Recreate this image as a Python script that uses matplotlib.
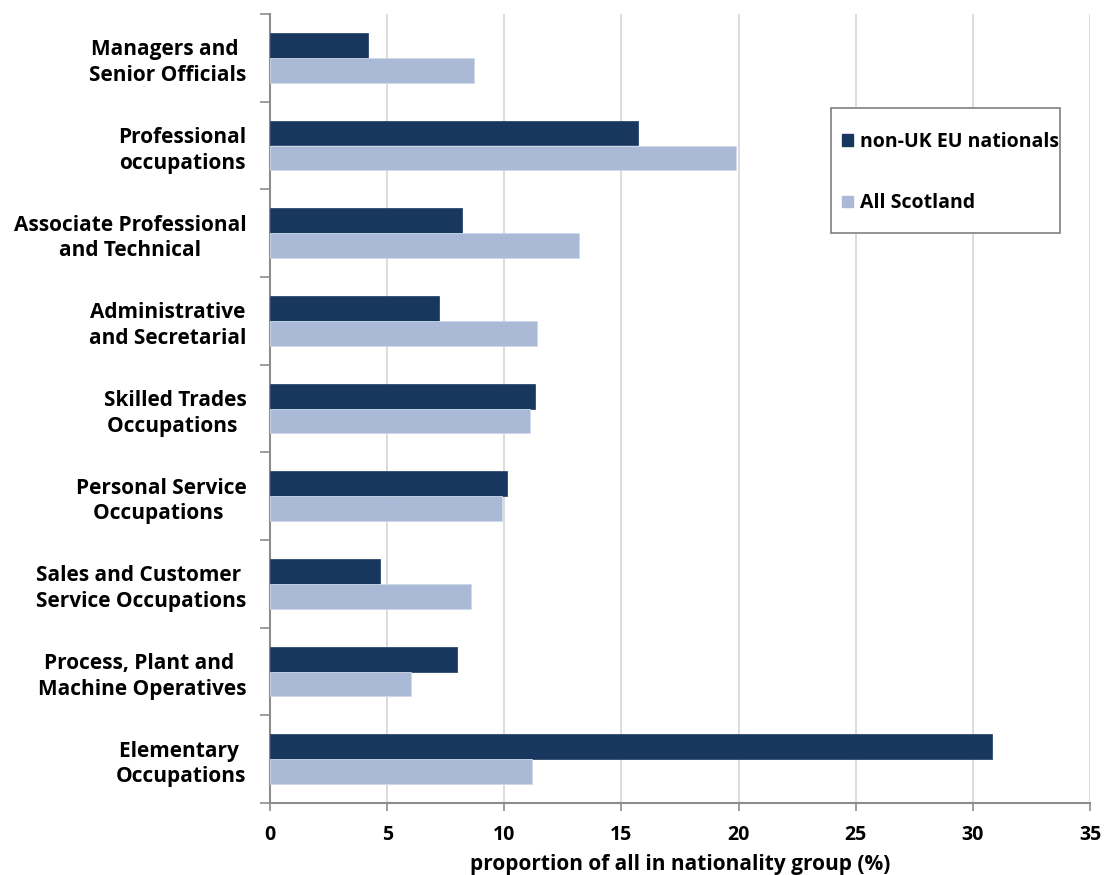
import matplotlib.pyplot as plt
import numpy as np
from matplotlib.patches import Patch, Rectangle

# Occupation groups (top to bottom)
categories = [
    'Managers and \nSenior Officials',
    'Professional\noccupations',
    'Associate Professional\nand Technical',
    'Administrative\nand Secretarial',
    'Skilled Trades\nOccupations ',
    'Personal Service\nOccupations ',
    'Sales and Customer \nService Occupations',
    'Process, Plant and \nMachine Operatives',
    'Elementary \nOccupations',
]
non_uk_eu = [4.2, 15.7, 8.2, 7.2, 11.3, 10.1, 4.7, 8.0, 30.8]
all_scotland = [8.7, 19.9, 13.2, 11.4, 11.1, 9.9, 8.6, 6.0, 11.2]
xticks = [0, 5, 10, 15, 20, 25, 30, 35]

dark = '#17375e'
light = '#aab9d6'

plt.rcParams['font.family'] = ['Open Sans', 'DejaVu Sans']
plt.rcParams['font.weight'] = 'bold'

W, H = 1108, 875
fig = plt.figure(figsize=(W / 100, H / 100), dpi=100)
ax = fig.add_axes([270 / W, 1 - 803 / H, 820 / W, 789 / H])

n = len(categories)
y = np.arange(n)
h = 0.285
ax.barh(y - h / 2, non_uk_eu, height=h, color=dark, edgecolor='#2f4a6e', linewidth=0.6, zorder=3)
ax.barh(y + h / 2, all_scotland, height=h, color=light, edgecolor='#d0d9ea', linewidth=0.6, zorder=3)

ax.set_ylim(n - 0.5, -0.5)
ax.set_xlim(0, 35)
ax.set_xticks(xticks)
ax.set_xticklabels([str(t) for t in xticks], fontsize=14, fontweight='bold')

# labels at group centres, ticks at group boundaries
ax.set_yticks(y)
ax.set_yticklabels(categories, fontsize=15, fontweight='bold', multialignment='center', linespacing=1.3)
ax.tick_params(axis='y', which='major', length=0, pad=17)
ax.set_yticks(np.arange(-0.5, n, 1), minor=True)
ax.tick_params(axis='y', which='minor', length=7, width=1.2, color='#8c8c8c', direction='out')
ax.tick_params(axis='x', length=6, width=1.2, color='#8c8c8c', direction='out', pad=10)

ax.grid(axis='x', color='#d9d9d9', linewidth=1.3, zorder=0)
for s in ['top', 'right']:
    ax.spines[s].set_visible(False)
for s in ['left', 'bottom']:
    ax.spines[s].set_color('#8c8c8c')
    ax.spines[s].set_linewidth(1.5)

ax.set_xlabel('proportion of all in nationality group (%)', fontsize=15, fontweight='bold', labelpad=6)

# legend box drawn by hand so its size matches
fig.patches.append(Rectangle((831 / W, 1 - 233 / H), 229 / W, 125 / H, transform=fig.transFigure,
                             facecolor='white', edgecolor='#7f7f7f', linewidth=1.2, zorder=4))
handles = [Patch(facecolor=dark, edgecolor=dark), Patch(facecolor=light, edgecolor=light)]
leg = fig.legend(handles, ['non-UK EU nationals', 'All Scotland'],
                 loc='center left', bbox_to_anchor=(842 / W, 1 - 172.5 / H),
                 frameon=False, prop={'weight': 'bold', 'size': 14},
                 handlelength=0.55, handleheight=0.55, handletextpad=0.4,
                 labelspacing=2.15, borderpad=0, borderaxespad=0)
leg.set_zorder(5)

fig.savefig('out.png', dpi=100)
